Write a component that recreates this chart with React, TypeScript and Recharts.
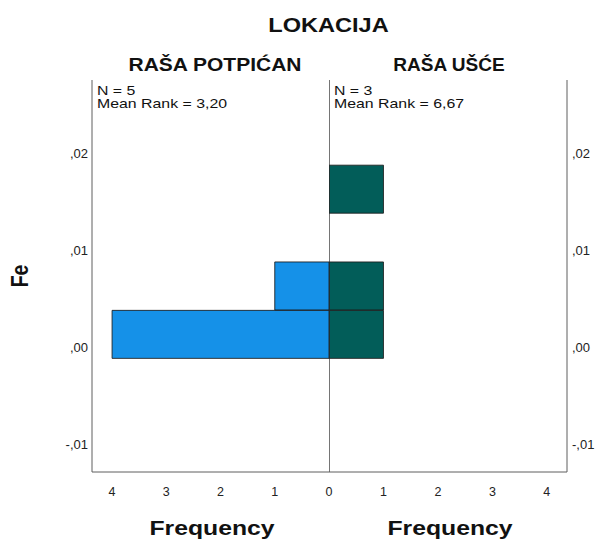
import { BarChart, Bar, XAxis, YAxis, ReferenceLine } from 'recharts'

// Fe bins (centres of the histogram bins) and counts per location
const FE_BINS = [0.0013, 0.0063, 0.0113, 0.0163]
const POTPICAN_COUNTS = [4, 1, 0, 0]
const USCE_COUNTS = [1, 1, 0, 1]

const FE_TICKS = [-0.01, 0, 0.01, 0.02]
const FE_DOMAIN: [number, number] = [-0.0129, 0.0276]
const LEFT_FREQ_TICKS = [0, 1, 2, 3, 4]
const RIGHT_FREQ_TICKS = [1, 2, 3, 4]
const FREQ_MAX = 4.37

const GROUPS = [
  { name: 'RAŠA POTPIĆAN', n: 5, meanRank: '3,20' },
  { name: 'RAŠA UŠĆE', n: 3, meanRank: '6,67' },
]

const BLUE = '#1591E8'
const TEAL = '#025D59'
const FRAME = '#5e5e5e'
const FONT = '"Liberation Sans", Arial, sans-serif'

const leftData = FE_BINS.map((bin, i) => ({ bin, count: POTPICAN_COUNTS[i] }))
const rightData = FE_BINS.map((bin, i) => ({ bin, count: USCE_COUNTS[i] }))

// SPSS style decimals: 0.02 -> ",02"
const fmtFe = (v: number) => v.toFixed(2).replace('0.', ',')

const xTickStyle = { fill: '#222', fontSize: 12.5, fontFamily: FONT }
const yTickStyle = { fill: '#222', fontSize: 13, fontFamily: FONT }

export default function App() {
  return (
    <div style={{
      position: 'absolute',
      left: 0,
      top: 0,
      width: 596,
      height: 543,
      overflow: 'hidden',
      background: '#fff',
      fontFamily: FONT,
    }}>
      <div style={{ position: 'absolute', left: 0, top: 0 }}>
        <BarChart
          width={345}
          height={543}
          data={leftData}
          layout="vertical"
          barCategoryGap={0}
          margin={{ top: 80, right: 16, bottom: 41, left: 0 }}
        >
          <XAxis
            type="number"
            domain={[0, FREQ_MAX]}
            ticks={LEFT_FREQ_TICKS}
            interval={0}
            reversed
            allowDataOverflow
            height={30}
            tickLine={false}
            tickMargin={9}
            axisLine={{ stroke: FRAME }}
            tick={xTickStyle}
          />
          <YAxis
            type="number"
            dataKey="bin"
            domain={FE_DOMAIN}
            ticks={FE_TICKS}
            interval={0}
            reversed
            allowDataOverflow
            tickFormatter={fmtFe}
            width={92}
            tickLine={false}
            tickSize={4}
            tickMargin={0}
            axisLine={{ stroke: FRAME }}
            tick={yTickStyle}
          />
          <Bar
            dataKey="count"
            fill={BLUE}
            stroke="#1b1b1b"
            strokeOpacity={0.85}
            isAnimationActive={false}
          />
        </BarChart>
      </div>

      <div style={{ position: 'absolute', left: 329, top: 0 }}>
        <BarChart
          width={300}
          height={543}
          data={rightData}
          layout="vertical"
          barCategoryGap={0}
          margin={{ top: 80, right: 0, bottom: 41, left: 0 }}
        >
          <XAxis
            type="number"
            domain={[0, FREQ_MAX]}
            ticks={RIGHT_FREQ_TICKS}
            interval={0}
            allowDataOverflow
            height={30}
            tickLine={false}
            tickMargin={9}
            axisLine={{ stroke: FRAME }}
            tick={xTickStyle}
          />
          <YAxis
            type="number"
            dataKey="bin"
            orientation="right"
            domain={FE_DOMAIN}
            ticks={FE_TICKS}
            interval={0}
            reversed
            allowDataOverflow
            tickFormatter={fmtFe}
            width={62}
            tickLine={false}
            tickSize={5}
            tickMargin={0}
            axisLine={{ stroke: FRAME }}
            tick={yTickStyle}
          />
          <Bar
            dataKey="count"
            fill={TEAL}
            stroke="#1b1b1b"
            strokeOpacity={0.85}
            isAnimationActive={false}
          />
          <ReferenceLine x={0} stroke="#2a2a2a" strokeWidth={1.3} />
        </BarChart>
      </div>

      {/* titles and annotations */}
      <svg
        width={596}
        height={543}
        style={{ position: 'absolute', left: 0, top: 0, pointerEvents: 'none' }}
        fontFamily={FONT}
      >
        <text transform="translate(328.5,31.7) scale(1.21,1)" textAnchor="middle"
          fontSize={19.5} fontWeight="bold" fill="#111">
          LOKACIJA
        </text>
        <text transform="translate(215,70.7) scale(1.2,1)" textAnchor="middle"
          fontSize={17.5} fontWeight="bold" fill="#111">
          {GROUPS[0].name}
        </text>
        <text transform="translate(449,70.7) scale(1.09,1)" textAnchor="middle"
          fontSize={17.5} fontWeight="bold" fill="#111">
          {GROUPS[1].name}
        </text>

        {GROUPS.map((g, i) => (
          <g key={g.name} transform={`translate(${i === 0 ? 97 : 334},0) scale(1.22,1)`}
            fontSize={13} fill="#111">
            <text x={0} y={95}>N = {g.n}</text>
            <text x={0} y={108}>Mean Rank = {g.meanRank}</text>
          </g>
        ))}

        <text transform="translate(212,534.7) scale(1.27,1)" textAnchor="middle"
          fontSize={19.5} fontWeight="bold" fill="#111">
          Frequency
        </text>
        <text transform="translate(450,534.7) scale(1.27,1)" textAnchor="middle"
          fontSize={19.5} fontWeight="bold" fill="#111">
          Frequency
        </text>

        <text transform="translate(28,276) scale(1.25,1) rotate(-90)" textAnchor="middle"
          fontSize={19.5} fontWeight="bold" fill="#111">
          Fe
        </text>
      </svg>
    </div>
  )
}
